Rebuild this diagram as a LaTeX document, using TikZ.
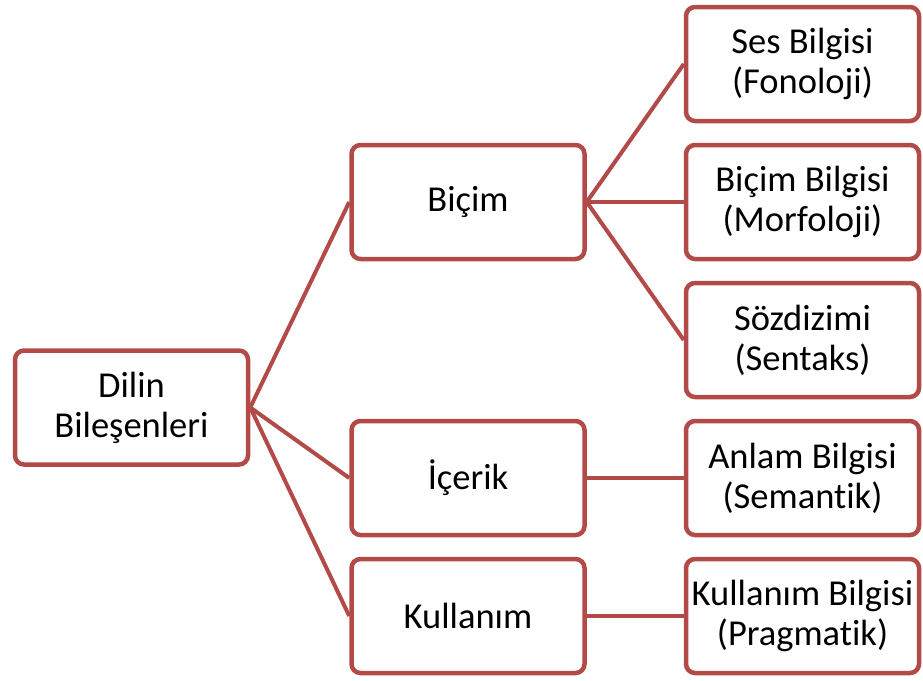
\documentclass[tikz,border=0pt]{standalone}
\usepackage{fontspec}
\setmainfont[Ligatures=NoCommon]{Carlito}
\usepackage{xcolor}
\usetikzlibrary{positioning}
\definecolor{boxred}{RGB}{178,74,72}

\begin{document}
\begin{tikzpicture}[x=1pt, y=-1pt,
  node distance=19.5pt and 97pt,
  box/.style={draw=boxred, line width=4.5pt, rounded corners=9pt, fill=white,
              align=center, minimum width=233pt, minimum height=114pt,
              inner sep=0pt, font=\fontsize{36.5}{40}\selectfont},
  link/.style={draw=boxred, line width=4pt}]
  \useasboundingbox (0,0) rectangle (923,680);
  % right column
  \node[box] (ses) at (802.5,64) {Ses Bilgisi\\(Fonoloji)};
  \node[box, below=of ses] (morf) {Biçim Bilgisi\\(Morfoloji)};
  \node[box, below=of morf] (sentaks) {Sözdizimi\\(Sentaks)};
  \node[box, below=of sentaks] (anlam) {Anlam Bilgisi\\(Semantik)};
  \node[box, below=of anlam] (prag) {Kullanım Bilgisi\\(Pragmatik)};
  % middle column
  \node[box, left=of morf] (bicim) {Biçim};
  \node[box, left=of anlam] (icerik) {İçerik};
  \node[box, left=of prag] (kullanim) {Kullanım};
  % root
  \node[box] (dil) at (131.5,407.5) {Dilin\\Bileşenleri};

  \draw[link] (dil.east) -- (bicim.west);
  \draw[link] (dil.east) -- (icerik.west);
  \draw[link] (dil.east) -- (kullanim.west);
  \draw[link] (bicim.east) -- (ses.west);
  \draw[link] (bicim.east) -- (morf.west);
  \draw[link] (bicim.east) -- (sentaks.west);
  \draw[link] (icerik) -- (anlam);
  \draw[link] (kullanim) -- (prag);
\end{tikzpicture}
\end{document}
